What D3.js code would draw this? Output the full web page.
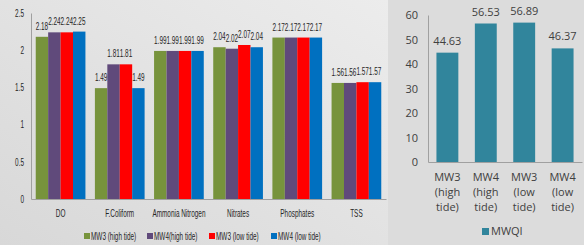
<!DOCTYPE html>
<html>
<head>
<meta charset="utf-8">
<script src="https://cdn.jsdelivr.net/npm/d3@7"></script>
<style>
  body { margin: 0; background: #dcdcdc; }
  svg { display: block; }
</style>
</head>
<body>
<div id="canvas"></div>
<script>
const params = ["DO", "F.Coliform", "Ammonia Nitrogen", "Nitrates", "Phosphates", "TSS"];
const seriesNames = ["MW3 (high tide)", "MW4(high tide)", "MW3 (low tide)", "MW4 (low tide)"];
const mw3High = [2.18, 1.49, 1.99, 2.04, 2.17, 1.56];
const mw4High = [2.24, 1.81, 1.99, 2.02, 2.17, 1.56];
const mw3Low = [2.24, 1.81, 1.99, 2.07, 2.17, 1.57];
const mw4Low = [2.25, 1.49, 1.99, 2.04, 2.17, 1.57];
const leftTicks = [0, 0.5, 1, 1.5, 2, 2.5];

const wells = [["MW3", "(high", "tide)"], ["MW4", "(high", "tide)"], ["MW3", "(low", "tide)"], ["MW4", "(low", "tide)"]];
const mwqi = [44.63, 56.53, 56.89, 46.37];
const rightTicks = [0, 10, 20, 30, 40, 50, 60];

const colors = ["#77933c", "#604a7b", "#ff0000", "#0070c0"];
const sans = "'Liberation Sans', Arial, sans-serif";

const width = 584, height = 245;
const svg = d3.select("#canvas").append("svg")
    .attr("width", width)
    .attr("height", height);

// the left chart's text is squeezed sideways in the picture
function squeeze(sel) {
    sel.style("font-family", sans)
        .style("font-size", "10.5px")
        .style("fill", "#262626")
        .each(function() {
            const w = this.getComputedTextLength();
            d3.select(this).attr("textLength", w * 0.61).attr("lengthAdjust", "spacingAndGlyphs");
        });
}

// background gradient for the left chart
const defs = svg.append("defs");
const grad = defs.append("linearGradient").attr("id", "bg")
    .attr("x1", "0").attr("y1", "1").attr("x2", "1").attr("y2", "0");
grad.append("stop").attr("offset", "0").attr("stop-color", "#d8d8d8");
grad.append("stop").attr("offset", "1").attr("stop-color", "#ececec");
svg.append("rect").attr("width", 388).attr("height", height).attr("fill", "url(#bg)");

// ---------- left chart ----------
const y = d3.scaleLinear().domain([0, 2.5]).range([199, 13]);
const x0 = d3.scaleBand().domain(params).range([31, 386]).paddingInner(0.16).paddingOuter(0.08);
const x1 = d3.scaleBand().domain(d3.range(4)).range([0, x0.bandwidth()]);

const allSeries = [mw3High, mw4High, mw3Low, mw4Low];
const left = svg.append("g");

const groups = left.selectAll("g.grp").data(params).enter().append("g")
    .attr("class", "grp")
    .attr("transform", d => `translate(${x0(d)},0)`);

groups.selectAll("rect")
    .data((d, i) => allSeries.map((s, k) => ({ k: k, v: s[i] })))
    .enter().append("rect")
    .attr("x", d => x1(d.k))
    .attr("y", d => y(d.v))
    .attr("width", x1.bandwidth())
    .attr("height", d => y(0) - y(d.v))
    .attr("fill", d => colors[d.k]);

groups.selectAll("text")
    .data((d, i) => allSeries.map((s, k) => ({ k: k, v: s[i] })))
    .enter().append("text")
    .attr("x", d => x1(d.k) + x1.bandwidth() / 2)
    .attr("y", d => y(d.v) - 7)
    .attr("text-anchor", "middle")
    .text(d => d.v.toFixed(2))
    .call(squeeze);

const yAxisL = left.append("g")
    .attr("transform", "translate(31,0)")
    .call(d3.axisLeft(y).tickValues(leftTicks).tickSize(0).tickPadding(7).tickFormat(d3.format("")));
yAxisL.select(".domain").attr("stroke", "#a0a0a0");
yAxisL.selectAll("text").call(squeeze);

const xAxisL = left.append("g")
    .attr("transform", "translate(0,199)")
    .call(d3.axisBottom(x0).tickSize(0).tickPadding(11));
xAxisL.select(".domain").attr("stroke", "#a0a0a0");
xAxisL.selectAll("text").call(squeeze);

// legend
const legX = [84, 147, 209, 271];
const leg = left.selectAll("g.leg").data(seriesNames).enter().append("g")
    .attr("class", "leg")
    .attr("transform", (d, i) => `translate(${legX[i]},236)`);
leg.append("rect").attr("x", 0).attr("y", -3).attr("width", 6).attr("height", 6)
    .attr("fill", (d, i) => colors[i]);
leg.append("text").attr("x", 7).attr("y", 4)
    .text(d => d)
    .call(squeeze);

// ---------- right chart ----------
const yR = d3.scaleLinear().domain([0, 60]).range([162, 15]);
const xR = d3.scaleBand().domain(d3.range(4)).range([428, 582]).paddingInner(0.43).paddingOuter(0.22);
const right = svg.append("g");

right.selectAll("rect.mwqi").data(mwqi).enter().append("rect")
    .attr("class", "mwqi")
    .attr("x", (d, i) => xR(i))
    .attr("y", d => yR(d))
    .attr("width", xR.bandwidth())
    .attr("height", d => yR(0) - yR(d))
    .attr("fill", "#31859c");

right.selectAll("text.val").data(mwqi).enter().append("text")
    .attr("class", "val")
    .attr("x", (d, i) => xR(i) + xR.bandwidth() / 2)
    .attr("y", d => yR(d) - 8)
    .attr("text-anchor", "middle")
    .style("font-family", "'Open Sans', sans-serif")
    .style("font-size", "11px")
    .style("fill", "#404040")
    .text(d => d.toFixed(2));

const yAxisR = right.append("g")
    .attr("transform", "translate(428,0)")
    .call(d3.axisLeft(yR).tickValues(rightTicks).tickSize(0).tickPadding(10));
yAxisR.select(".domain").attr("stroke", "#a0a0a0");
yAxisR.selectAll("text").style("font-family", "'Open Sans', sans-serif").style("font-size", "11px").style("fill", "#404040");

const xAxisR = right.append("g")
    .attr("transform", "translate(0,162)")
    .call(d3.axisBottom(xR).tickSize(0).tickFormat(""));
xAxisR.select(".domain").attr("stroke", "#a0a0a0");

right.selectAll("text.well").data(wells).enter().append("text")
    .attr("class", "well")
    .attr("x", (d, i) => xR(i) + xR.bandwidth() / 2)
    .attr("y", 181)
    .attr("text-anchor", "middle")
    .style("font-family", "'Open Sans', sans-serif")
    .style("font-size", "11px")
    .style("fill", "#404040")
    .selectAll("tspan").data(d => d).enter().append("tspan")
    .attr("x", function() { return d3.select(this.parentNode).attr("x"); })
    .attr("dy", (d, i) => i === 0 ? 0 : 15)
    .text(d => d);

right.append("rect").attr("x", 482).attr("y", 228).attr("width", 7).attr("height", 7).attr("fill", "#31859c");
right.append("text").attr("x", 491).attr("y", 235)
    .style("font-family", "'Open Sans', sans-serif").style("font-size", "11px").style("fill", "#404040")
    .text("MWQI");
</script>
</body>
</html>
